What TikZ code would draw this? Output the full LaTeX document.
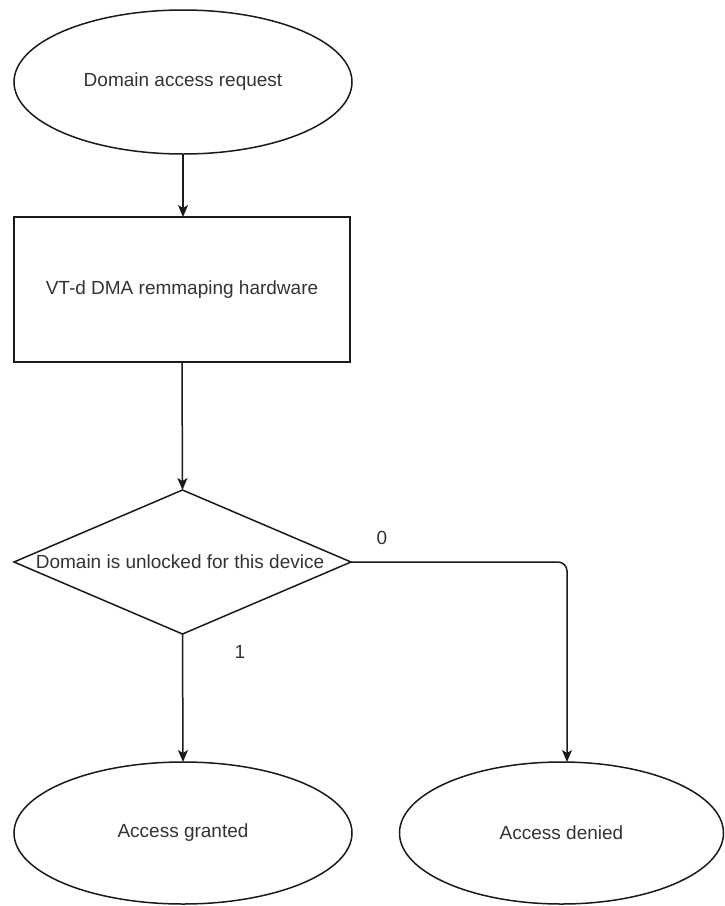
\documentclass[tikz,border=0pt]{standalone}
\usepackage{fontspec}
\setmainfont{Liberation Sans}
\usetikzlibrary{shapes.geometric,arrows.meta}
\definecolor{linecol}{HTML}{1A1A1A}
\definecolor{textcol}{HTML}{333333}
\begin{document}
\begin{tikzpicture}[x=1pt,y=-1pt,
  base/.style={draw=linecol,line width=1.5pt,inner sep=0pt,outer sep=0pt,
    text=textcol,font=\fontsize{19}{22}\selectfont},
  terminal/.style={base,ellipse},
  process/.style={base,rectangle},
  decision/.style={base,diamond},
  txt/.style={text=textcol,font=\fontsize{19}{22}\selectfont,inner sep=0pt},
  arr/.style={draw=linecol,line width=1.5pt,-{Stealth[length=12pt,width=10pt,inset=3pt]}}]
\useasboundingbox (0,0) rectangle (725,906);

% flow steps
\node[terminal,minimum width=338pt,minimum height=144pt] (req) at (183,82) {Domain access request};
\node[process,minimum width=336pt,minimum height=145pt] (hw) at (182,289.5) {VT-d DMA remmaping hardware};
\node[decision,minimum width=337pt,minimum height=144pt] (dec) at (182.5,562) {};
\node[txt] (dectext) at (180,562) {Domain is unlocked for this device};
\node[terminal,minimum width=338pt,minimum height=142pt] (grant) at (183,833) {Access granted};
\node[terminal,minimum width=324pt,minimum height=142pt] (deny) at (561.5,833) {Access denied};

% connectors
\draw[arr] (req.south) -- (hw.north -| req.south);
\draw[arr] (hw.south) -- (dec.north);
\draw[arr] (dec.south) -- (grant.north);
\draw[arr,rounded corners=9pt] (dec.east) -| ([xshift=5.5pt]deny.north);

% branch labels
\node[txt] (lbl0) at (382,538) {0};
\node[txt] (lbl1) at (240,652) {1};
\end{tikzpicture}
\end{document}
